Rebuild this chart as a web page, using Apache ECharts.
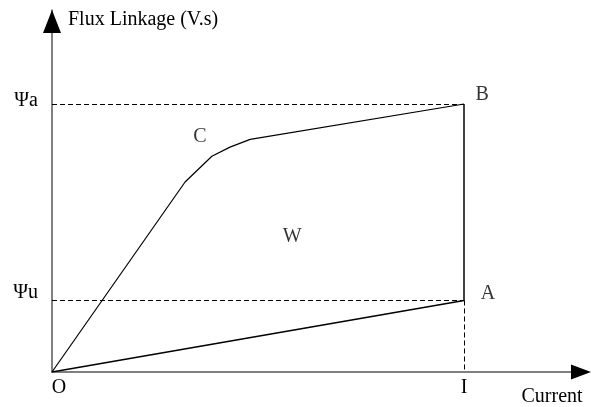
<!DOCTYPE html>
<html>
<head>
<meta charset="utf-8">
<script src="https://cdn.jsdelivr.net/npm/echarts@6/dist/echarts.min.js"></script>
<style>
  html, body { margin: 0; padding: 0; background: #fff; }
  #chart { width: 591px; height: 407px; }
</style>
</head>
<body>
<div id="chart"></div>
<script>
// magnetisation curve O -> C -> B (current, flux linkage)
const curveCurrent = [0, 3.23, 3.88, 4.32, 4.81, 10]
const curveFlux = [0, 7.09, 8.05, 8.39, 8.68, 10]
// lower path O -> A -> B
const pathCurrent = [0, 10, 10]
const pathFlux = [0, 2.67, 10]
// reference levels
const psiA = 10
const psiU = 2.67
const currentI = 10
// axis tick labels
const yTickValues = [2.67, 10]
const yTickLabels = ['Ψu', 'Ψa']
const xTickValues = [0, 10]
const xTickLabels = ['O', 'I']
// point labels
const pointNames = ['B', 'A', 'C', 'W']
const pointCurrent = [10.44, 10.58, 3.59, 5.83]
const pointFlux = [10.35, 2.93, 8.76, 5.05]

const FONT = 'Liberation Serif'

const chart = echarts.init(document.getElementById('chart'))

const option = {
  animation: false,
  textStyle: { fontFamily: FONT, color: '#000' },
  grid: { left: 52, right: 3.4, top: 10.2, bottom: 33 },
  xAxis: {
    type: 'value',
    min: 0,
    max: 13,
    name: 'Current',
    nameLocation: 'end',
    nameGap: 0,
    nameTextStyle: {
      fontFamily: FONT, fontSize: 20, color: '#000',
      align: 'right', verticalAlign: 'top', padding: [15, 5, 0, 0]
    },
    axisLine: { lineStyle: { color: '#808080', width: 2 } },
    axisTick: { show: false },
    splitLine: { show: false },
    axisLabel: {
      customValues: xTickValues,
      margin: 6,
      fontFamily: FONT,
      fontSize: 20,
      color: '#000',
      formatter: (v) => {
        const i = xTickValues.indexOf(v)
        return i === 0 ? '{o|' + xTickLabels[i] + '}' : xTickLabels[i]
      },
      rich: { o: { fontFamily: FONT, fontSize: 20, color: '#000', padding: [0, 0, 0, 14] } }
    }
  },
  yAxis: {
    type: 'value',
    min: 0,
    max: 13.5,
    name: 'Flux Linkage (V.s)',
    nameLocation: 'end',
    nameGap: -10,
    nameTextStyle: {
      fontFamily: FONT, fontSize: 20, color: '#000',
      align: 'left', verticalAlign: 'middle', padding: [0, 0, 0, 16]
    },
    axisLine: { lineStyle: { color: '#808080', width: 2 } },
    axisTick: { show: false },
    splitLine: { show: false },
    axisLabel: {
      customValues: yTickValues,
      margin: 14,
      fontFamily: FONT,
      fontSize: 20,
      color: '#000',
      formatter: (v) => {
        const i = yTickValues.indexOf(v)
        return '{l' + i + '|' + yTickLabels[i] + '}'
      },
      rich: {
        l0: { fontFamily: FONT, fontSize: 20, color: '#000', padding: [0, 0, 16, 0] },
        l1: { fontFamily: FONT, fontSize: 20, color: '#000', padding: [0, 0, 6, 0] }
      }
    }
  },
  series: [
    {
      name: 'curve',
      type: 'line',
      data: curveCurrent.map((x, i) => [x, curveFlux[i]]),
      showSymbol: false,
      lineStyle: { color: '#000', width: 1.2 },
      z: 3
    },
    {
      name: 'path',
      type: 'line',
      data: pathCurrent.map((x, i) => [x, pathFlux[i]]),
      showSymbol: false,
      lineStyle: { color: '#000', width: 1.5 },
      z: 3,
      markLine: {
        silent: true,
        symbol: 'none',
        label: { show: false },
        lineStyle: { color: '#000', width: 1, type: [5, 3] },
        data: [
          [{ coord: [0, psiA] }, { coord: [currentI, psiA] }],
          [{ coord: [0, psiU] }, { coord: [currentI, psiU] }],
          [{ coord: [currentI, psiU] }, { coord: [currentI, 0] }]
        ]
      },
      // axis arrow heads
      markPoint: {
        silent: true,
        symbol: 'triangle',
        label: { show: false },
        itemStyle: { color: '#000' },
        data: [
          { coord: [0, 13.08], symbolSize: [18, 23] },
          { coord: [12.84, 0], symbolSize: [15, 20], symbolRotate: -90 }
        ]
      }
    },
    {
      name: 'labels',
      type: 'scatter',
      symbolSize: 0,
      data: pointNames.map((n, i) => ({ name: n, value: [pointCurrent[i], pointFlux[i]] })),
      label: {
        show: true,
        position: 'inside',
        formatter: '{b}',
        fontFamily: FONT,
        fontSize: 20,
        color: '#000'
      }
    }
  ]
}

chart.setOption(option)
</script>
</body>
</html>
